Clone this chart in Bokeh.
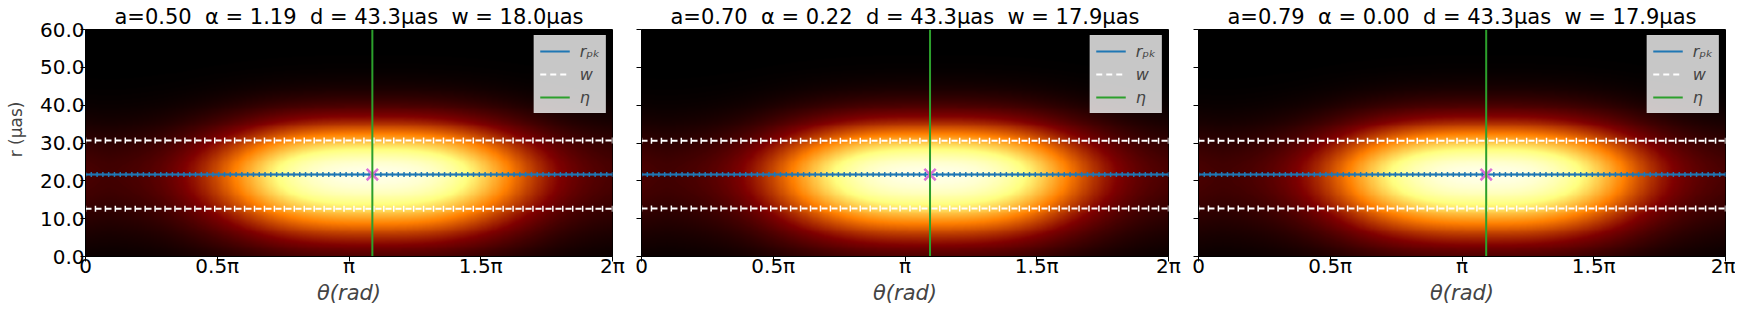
import numpy as np
from bokeh.plotting import figure
from bokeh.models import LinearColorMapper, FixedTicker, Legend, LegendItem, Range1d
from bokeh.layouts import row
from bokeh.embed import file_html
from bokeh.resources import INLINE

# ---- values ----
a_vals = [0.50, 0.70, 0.79]
alpha_vals = [1.19, 0.22, 0.00]
d_vals = [43.3, 43.3, 43.3]
w_vals = [18.0, 17.9, 17.9]
eta_vals = [3.42, 3.44, 3.43]          # rad, position of the green line
r_pk_vals = [21.65, 21.65, 21.65]      # = d/2 (muas)

x_tick_vals = [0.0, np.pi / 2, np.pi, 3 * np.pi / 2, 2 * np.pi]
x_tick_labels = ["0", "0.5π", "π", "1.5π", "2π"]
y_tick_vals = [0, 10, 20, 30, 40, 50, 60]
y_tick_labels = ["0.0", "10.0", "20.0", "30.0", "40.0", "50.0", "60.0"]

# ring-image model parameters
sigma_r_in = 11.5
sigma_r_out = 9.5
theta_s = 1.8
theta_k = 2.8
floor = 0.13
peak = 0.95

# afmhot palette
v = np.linspace(0, 1, 256)
rr = np.clip(2 * v, 0, 1)
gg = np.clip(2 * v - 0.5, 0, 1)
bb = np.clip(2 * v - 1.0, 0, 1)
palette = ["#%02x%02x%02x" % (int(r * 255), int(g * 255), int(b * 255)) for r, g, b in zip(rr, gg, bb)]

R_MAX = 60.0
TWO_PI = 2 * np.pi
r_grid = np.linspace(0, R_MAX, 240)
t_grid = np.linspace(0, TWO_PI, 480)

FONT = "DejaVu Sans"
NB = "\u00a0\u00a0"
borders_left = [85, 15, 15]
borders_right = [14, 15, 10]


def ring_image(rpk, eta):
    T, R = np.meshgrid(t_grid, r_grid)
    dr = R - rpk
    sig = np.where(dr < 0, sigma_r_in, sigma_r_out)
    g = np.exp(-dr ** 2 / (2 * sig ** 2))
    dt = np.angle(np.exp(1j * (T - eta)))
    f = floor + (1 - floor) * np.exp(-(np.abs(dt) / theta_s) ** theta_k)
    return peak * g * f


figs = []
for i in range(3):
    a, al, d, w = a_vals[i], alpha_vals[i], d_vals[i], w_vals[i]
    eta, rpk = eta_vals[i], r_pk_vals[i]
    p = figure(frame_width=527, frame_height=227,
               x_range=Range1d(0, TWO_PI), y_range=Range1d(0, R_MAX),
               output_backend="svg", toolbar_location=None,
               min_border_left=borders_left[i], min_border_right=borders_right[i],
               min_border_top=29, min_border_bottom=50)
    p.title.text = f"a={a:.2f}{NB}α = {al:.2f}{NB}d = {d:.1f}μas{NB}w = {w:.1f}μas"
    p.title.align = "center"
    p.title.offset = -9
    p.title.standoff = 2
    p.title.text_font = FONT
    p.title.text_font_style = "normal"
    p.title.text_font_size = "21px"
    p.title.text_color = "black"
    p.grid.visible = False
    p.outline_line_color = "black"
    p.outline_line_width = 1

    mapper = LinearColorMapper(palette=palette, low=0, high=1)
    p.image(image=[ring_image(rpk, eta)], x=0, y=0, dw=TWO_PI, dh=R_MAX, color_mapper=mapper)

    th_b = np.linspace(0, TWO_PI, 92)
    blue = p.line(th_b, np.full(th_b.size, rpk), line_color="#1f77b4", line_width=2)
    p.scatter(th_b, np.full(th_b.size, rpk), marker="cross", size=5,
              line_color="#1f77b4", line_width=1.5)

    th_w = np.linspace(0, TWO_PI, 54)
    w_up = p.line(th_w, np.full(th_w.size, rpk + w / 2), line_color="white",
                  line_dash="6 4", line_width=2)
    p.line(th_w, np.full(th_w.size, rpk - w / 2), line_color="white",
           line_dash="6 4", line_width=2)
    for yy in (rpk + w / 2, rpk - w / 2):
        p.scatter(th_w, np.full(th_w.size, yy), marker="dash", angle=np.pi / 2,
                  size=6, line_color="white", line_width=1.5)

    p.scatter([eta], [rpk], marker="x", size=16, line_color="orchid", line_width=2.5)
    green = p.line([eta, eta], [0, R_MAX], line_color="#2ca02c", line_width=2)

    legend = Legend(items=[LegendItem(label="rₚₖ", renderers=[blue]),
                           LegendItem(label="w", renderers=[w_up]),
                           LegendItem(label="η", renderers=[green])],
                    location="top_right")
    legend.background_fill_color = "white"
    legend.background_fill_alpha = 0.78
    legend.border_line_color = "#d0d0d0"
    legend.label_text_font = FONT
    legend.label_text_font_style = "italic"
    legend.label_text_font_size = "16px"
    legend.glyph_width = 30
    legend.glyph_height = 20
    legend.label_height = 20
    legend.spacing = 3
    legend.padding = 5
    legend.margin = 6
    legend.label_standoff = 10
    p.add_layout(legend)

    for ax in (p.xaxis[0], p.yaxis[0]):
        ax.major_tick_out = 5
        ax.major_tick_in = 0
        ax.minor_tick_out = 0
        ax.minor_tick_in = 0
        ax.axis_line_color = "black"
        ax.major_tick_line_color = "black"
        ax.major_label_text_font = FONT
        ax.major_label_text_font_size = "20px"
        ax.major_label_text_color = "black"

    p.xaxis.ticker = FixedTicker(ticks=x_tick_vals)
    p.xaxis.major_label_overrides = {t: s for t, s in zip(x_tick_vals, x_tick_labels)}
    p.xaxis.major_label_standoff = -8
    p.xaxis.axis_label = "θ(rad)"
    p.xaxis.axis_label_text_font = FONT
    p.xaxis.axis_label_text_font_style = "italic"
    p.xaxis.axis_label_text_font_size = "21px"
    p.xaxis.axis_label_standoff = 0

    p.yaxis.ticker = FixedTicker(ticks=y_tick_vals)
    p.yaxis.major_label_standoff = -4
    if i == 0:
        p.yaxis.major_label_overrides = {t: s for t, s in zip(y_tick_vals, y_tick_labels)}
        p.yaxis.axis_label = "\u00a0\u00a0\u00a0\u00a0\u00a0r (μas)"
        p.yaxis.axis_label_text_font = FONT
        p.yaxis.axis_label_text_font_style = "normal"
        p.yaxis.axis_label_text_font_size = "17px"
        p.yaxis.axis_label_standoff = 11
    else:
        p.yaxis.major_label_overrides = {t: "" for t in y_tick_vals}
        p.yaxis.major_label_text_font_size = "1px"
    figs.append(p)

layout = row(*figs)
open("out.html", "w").write(file_html(layout, INLINE))
